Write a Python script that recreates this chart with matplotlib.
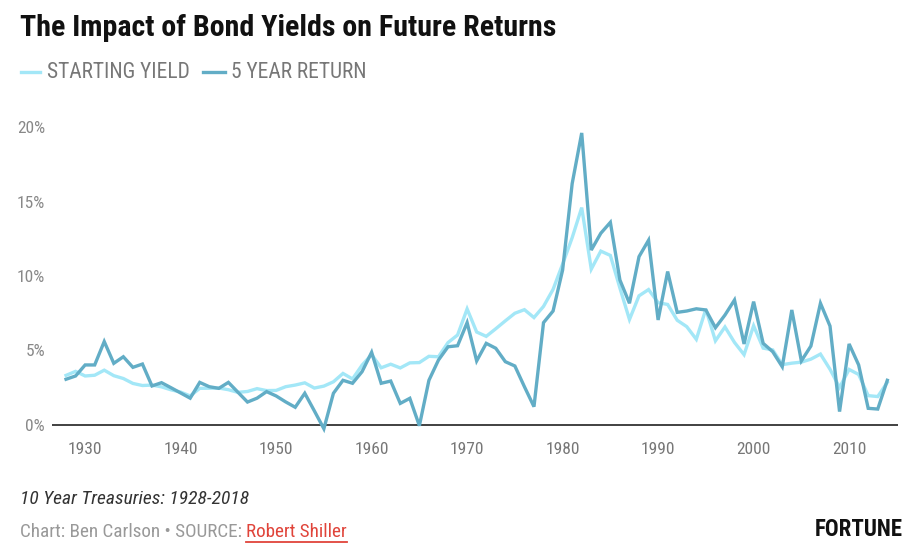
import numpy as np
import matplotlib
matplotlib.use("Agg")
import matplotlib.pyplot as plt
from matplotlib.lines import Line2D

# data: yield at start of year and the 5 year return after it (percent)
years = np.arange(1928, 2015)

starting_yield = [
    3.33, 3.60, 3.29, 3.34, 3.68, 3.31, 3.12, 2.79, 2.65, 2.68,
    2.56, 2.36, 2.21, 1.95, 2.46, 2.47, 2.48, 2.37, 2.19, 2.25,
    2.44, 2.31, 2.32, 2.57, 2.68, 2.83, 2.48, 2.61, 2.90, 3.46,
    3.09, 4.02, 4.72, 3.84, 4.08, 3.83, 4.17, 4.19, 4.61, 4.58,
    5.53, 6.04, 7.79, 6.24, 5.95, 6.46, 6.99, 7.50, 7.74, 7.21,
    7.96, 9.10, 10.80, 12.57, 14.59, 10.46, 11.67, 11.38, 9.19, 7.08,
    8.67, 9.09, 8.21, 8.09, 7.03, 6.60, 5.75, 7.78, 5.65, 6.58,
    5.54, 4.72, 6.66, 5.16, 5.04, 4.05, 4.15, 4.22, 4.42, 4.76,
    3.74, 2.52, 3.73, 3.39, 1.97, 1.91, 2.86,
]

five_year_return = [
    3.07, 3.29, 4.03, 4.03, 5.60, 4.14, 4.58, 3.87, 4.09, 2.62,
    2.84, 2.50, 2.15, 1.80, 2.86, 2.57, 2.46, 2.86, 2.20, 1.54,
    1.80, 2.24, 1.95, 1.55, 1.19, 2.13, 0.95, -0.25, 2.13, 3.00,
    2.80, 3.58, 4.88, 2.80, 2.95, 1.45, 1.79, -0.05, 3.00, 4.36,
    5.25, 5.32, 6.87, 4.30, 5.48, 5.15, 4.25, 3.96, 2.57, 1.23,
    6.87, 7.65, 10.40, 16.20, 19.60, 11.74, 12.87, 13.60, 9.73, 8.17,
    11.30, 12.40, 7.05, 10.30, 7.56, 7.65, 7.80, 7.72, 6.53, 7.38,
    8.39, 5.44, 8.28, 5.48, 4.92, 3.91, 7.72, 4.30, 5.30, 8.17,
    6.64, 0.90, 5.44, 4.03, 1.12, 1.07, 3.00,
]

x_ticks = [1930, 1940, 1950, 1960, 1970, 1980, 1990, 2000, 2010]
y_ticks = [0, 5, 10, 15, 20]

LIGHT = "#a3e7f7"
DARK = "#62adc6"
FONT = ["Roboto Condensed", "Liberation Sans Narrow", "Roboto", "DejaVu Sans"]

W, H = 907, 547


def fx(px):
    return px / W


def fy(py):
    return 1 - py / H


fig = plt.figure(figsize=(W / 100, H / 100), dpi=100)
ax = fig.add_axes([fx(52), fy(436), fx(898) - fx(52), fy(120) - fy(436)])

ax.plot(years, starting_yield, color=LIGHT, lw=2.4, solid_joinstyle="miter", zorder=2)
ax.plot(years, five_year_return, color=DARK, lw=2.4, solid_joinstyle="miter", zorder=3)
ax.axhline(0, color="#333333", lw=1.3, zorder=1)

ax.set_xlim(1926.53, 2015.12)
ax.set_ylim((425 - 436) / 14.9, (425 - 120) / 14.9)

ax.set_xticks(x_ticks)
ax.set_xticklabels([str(t) for t in x_ticks], family=FONT, fontsize=12.5, color="#777777")
ax.set_yticks(y_ticks)
ax.set_yticklabels([f"{t}%" for t in y_ticks], family=FONT, fontsize=12.5, color="#888888")
ax.tick_params(axis="both", length=0)
ax.tick_params(axis="x", pad=4)
ax.tick_params(axis="y", pad=5)
for s in ax.spines.values():
    s.set_visible(False)

# title and legend
fig.text(fx(20), fy(28), "The Impact of Bond Yields on Future Returns", family=FONT,
         fontsize=21.6, fontweight="bold", color="#111111", va="center", ha="left")

fig.add_artist(Line2D([fx(21), fx(40)], [fy(72), fy(72)], color=LIGHT, lw=2.4))
fig.text(fx(47), fy(72), "STARTING YIELD", family=FONT, fontsize=15.5, color="#777777",
         va="center", ha="left")
fig.add_artist(Line2D([fx(203), fx(225)], [fy(72), fy(72)], color=DARK, lw=2.4))
fig.text(fx(231), fy(72), "5 YEAR RETURN", family=FONT, fontsize=15.5, color="#777777",
         va="center", ha="left")

# footer
fig.text(fx(20), fy(499), "10 Year Treasuries: 1928-2018", family=FONT, fontsize=14,
         style="italic", color="#333333", va="center", ha="left")
t1 = fig.text(fx(20), fy(532), "Chart: Ben Carlson \u2022 SOURCE: ", family=FONT, fontsize=13.8,
              color="#999999", va="center", ha="left")
fig.canvas.draw()
bb = t1.get_window_extent()
t2 = fig.text(bb.x1 / W, fy(532), "Robert Shiller", family=FONT, fontsize=13.8,
              color="#e0443a", va="center", ha="left")
fig.canvas.draw()
bb2 = t2.get_window_extent()
fig.add_artist(Line2D([bb2.x0 / W, bb2.x1 / W], [(bb2.y0 - 1) / H, (bb2.y0 - 1) / H],
                      color="#e0443a", lw=1.3))

fig.text(fx(903), fy(530), "FORTUNE", family=FONT, fontsize=16.5, fontweight="bold",
         color="#111111", va="center", ha="right")

fig.savefig("out.png", dpi=100)
